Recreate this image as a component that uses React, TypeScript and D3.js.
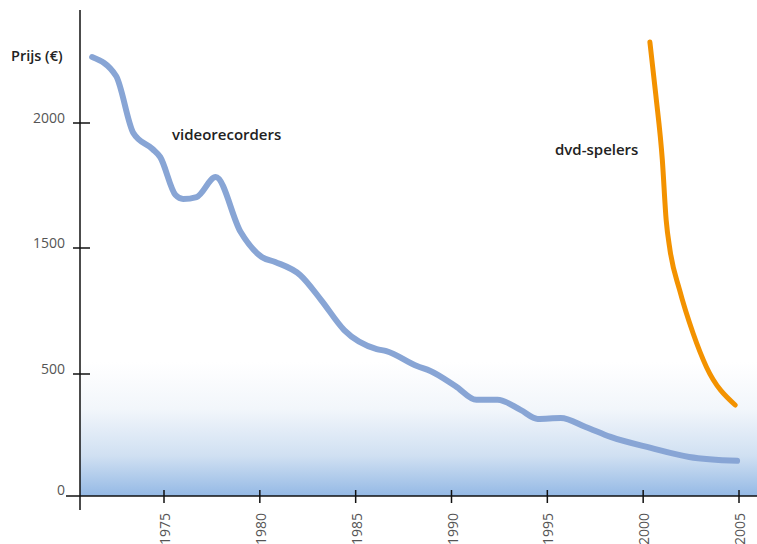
import React from "react";
import * as d3 from "d3";

const vcrYears = [1971.25, 1972.5, 1973.4, 1974.4, 1974.8, 1975.6, 1976.0, 1976.7, 1977.7, 1979.0, 1980.1, 1980.8, 1982.1, 1983.2, 1984.4, 1986.1, 1986.6, 1988.2, 1988.9, 1990.2, 1991.3, 1992.4, 1993.6, 1994.5, 1995.7, 1997.0, 1998.3, 2000.4, 2002.4, 2004.9];
const vcrPrices = [2264, 2188, 1960, 1896, 1864, 1712, 1696, 1704, 1784, 1564, 1429, 1389, 1286, 1087, 849, 698, 682, 563, 524, 451, 394, 394, 353, 316, 320, 283, 242, 197, 160, 144];

const dvdYears = [2000.35, 2000.66, 2001.0, 2001.2, 2001.4, 2001.9, 2002.6, 2003.3, 2004.8];
const dvdPrices = [2324, 2112, 1852, 1612, 1484, 1167, 825, 556, 373];

const xTicks = [1975, 1980, 1985, 1990, 1995, 2000, 2005];
const yTicks = [0, 500, 1500, 2000];
const yTickLabels = ["0", "500", "1500", "2000"];

const FONT = "'Open Sans', 'Noto Sans', sans-serif";

export default function App() {
  const W = 757, H = 544;
  const axisX = 80, axisY = 496;
  const x = d3.scaleLinear().domain([1975, 2005]).range([164, 739]);
  const y = d3.scaleLinear().domain([0, 500, 1500, 2000]).range([496, 374, 248, 123]);

  const line = d3
    .line<[number, number]>()
    .x((d) => x(d[0]))
    .y((d) => y(d[1]))
    .curve(d3.curveMonotoneX);

  const vcr = vcrYears.map((yr, i) => [yr, vcrPrices[i]] as [number, number]);
  const dvd = dvdYears.map((yr, i) => [yr, dvdPrices[i]] as [number, number]);

  return (
    <svg width={W} height={H} style={{ position: "absolute", left: 0, top: 0, background: "#fff" }}>
      <defs>
        <linearGradient id="bg" x1="0" y1="0" x2="0" y2="1">
          <stop offset="0" stopColor="#ffffff" />
          <stop offset="0.35" stopColor="#f2f6fb" />
          <stop offset="0.7" stopColor="#d0e0f2" />
          <stop offset="1" stopColor="#94b9e5" />
        </linearGradient>
      </defs>
      <rect x={axisX} y={362} width={W - axisX} height={axisY - 362} fill="url(#bg)" />

      <path d={line(vcr) || ""} fill="none" stroke="#88a5d5" strokeWidth={6} strokeLinejoin="round" strokeLinecap="round" />
      <path d={line(dvd) || ""} fill="none" stroke="#f39200" strokeWidth={5} strokeLinejoin="round" strokeLinecap="round" />

      <line x1={axisX} x2={axisX} y1={10} y2={510} stroke="#111" strokeWidth={1.5} />
      <line x1={66} x2={W} y1={axisY} y2={axisY} stroke="#111" strokeWidth={1.5} />

      {yTicks.map((t, i) => (
        <g key={t}>
          {t !== 0 && <line x1={73} x2={90} y1={y(t)} y2={y(t)} stroke="#111" strokeWidth={1.5} />}
          <text x={65} y={y(t) + (t === 0 ? -1 : 0)} textAnchor="end" fontFamily={FONT} fontSize={14} fill="#555">
            {yTickLabels[i]}
          </text>
        </g>
      ))}

      {xTicks.map((t) => (
        <g key={t}>
          <line x1={x(t)} x2={x(t)} y1={490} y2={503} stroke="#111" strokeWidth={1.5} />
          <text transform={`translate(${x(t)},513) rotate(-90)`} y={6} textAnchor="end" fontFamily={FONT} fontSize={14} fill="#555">
            {t}
          </text>
        </g>
      ))}

      <text x={11} y={61} fontFamily={FONT} fontSize={14.5} fontWeight={600} fill="#222">Prijs (€)</text>
      <text x={172} y={140} fontFamily={FONT} fontSize={15} fontWeight={600} fill="#222">videorecorders</text>
      <text x={555} y={155} fontFamily={FONT} fontSize={15} fontWeight={600} fill="#222">dvd-spelers</text>
    </svg>
  );
}
